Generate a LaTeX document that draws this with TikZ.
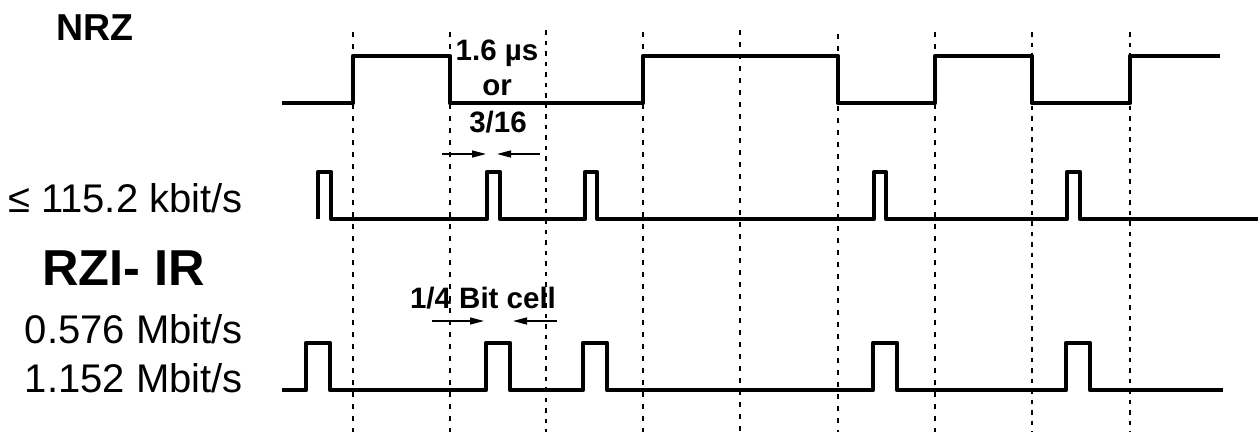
\documentclass[tikz,border=0pt]{standalone}
\usepackage{fontspec}
\setmainfont{Liberation Sans}
\usepackage{tikz}
\usetikzlibrary{arrows, arrows.meta, positioning}

\begin{document}
\begin{tikzpicture}[x=1pt, y=-1pt,
			signal/.style={line width=4.2pt, line join=round},
			cellline/.style={line width=2.3pt, dash pattern=on 5pt off 7pt},
			cellbold/.style={line width=2.7pt, dash pattern=on 4.5pt off 6pt},
			rate/.style={font=\fontsize{40}{44}\selectfont, inner sep=0pt, anchor=base east},
			title/.style={font=\fontsize{37.5}{40}\selectfont\bfseries, inner sep=0pt, anchor=base west},
			note/.style={font=\fontsize{29.5}{32}\selectfont\bfseries, inner sep=0pt, anchor=base},
			dim/.style={line width=1.4pt, -{Triangle[length=14pt, width=7pt]}}
			]
			\useasboundingbox (0,0) rectangle (1258,432);
			
			\draw[cellline] (353,32) -- (353,432);
			\draw[cellline] (450,32) -- (450,432);
			\draw[cellbold] (546,30) -- (546,432);
			\draw[cellline] (643,32) -- (643,432);
			\draw[cellline] (740,30) -- (740,432);
			\draw[cellline] (838,34) -- (838,432);
			\draw[cellline] (935,32) -- (935,432);
			\draw[cellbold] (1032,32) -- (1032,432);
			\draw[cellbold] (1130,32) -- (1130,432);
			
			\node [title](nrz) at (56,40) {NRZ};
			\node [rate](slow) at (243,212) {≤ 115.2 kbit/s};
			\node [title, font=\fontsize{50.5}{54}\selectfont\bfseries](rzi) at (42,285) {RZI- IR};
			\node [rate](mid) at (243,343) {0.576 Mbit/s};
			\node [rate](fast) at (243,392) {1.152 Mbit/s};
			
			\node [note](width) at (497,60) {1.6 µs};
			\node [note](or) at (497,95) {or};
			\node [note](frac) at (498,132) {3/16};
			\node [note](cell) at (483,308) {1/4 Bit cell};
			
			\draw[signal] (282,103) -| (353,56) -| (450,103) -| (643,56) -| (838,103)
				-| (935,56) -| (1032,103) -| (1130,56) -- (1220,56);
			\draw[signal] (318,219) |- (331,172) |- (487,219) |- (500,172) |- (585,219)
				|- (597,172) |- (874,219) |- (886,172) |- (1067,219) |- (1080,172) |- (1258,219);
			\draw[signal] (282,390) -| (306,343) -| (330,390) -| (486,343) -| (510,390)
				-| (583,343) -| (607,390) -| (873,343) -| (897,390) -| (1066,343) -| (1090,390) -- (1223,390);
			
			\coordinate (a1) at (442,154);
			\coordinate (a2) at (486,154);
			\coordinate (a3) at (540,154);
			\coordinate (a4) at (497,154);
			\coordinate (b1) at (432,321);
			\coordinate (b2) at (484,321);
			\coordinate (b3) at (557,321);
			\coordinate (b4) at (513,321);
			
			\draw[dim] (a1) -- (a2);
			\draw[dim] (a3) -- (a4);
			\draw[dim] (b1) -- (b2);
			\draw[dim] (b3) -- (b4);
		\end{tikzpicture}
\end{document}
